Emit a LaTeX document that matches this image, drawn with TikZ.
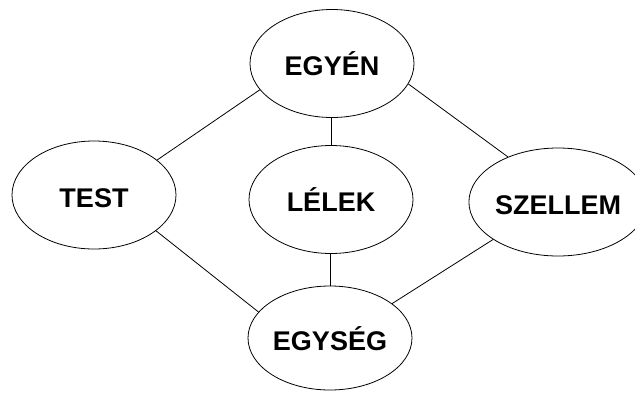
\documentclass[tikz,border=0pt]{standalone}
\usepackage{fontspec}
\setmainfont{Liberation Sans}
\usetikzlibrary{shapes.geometric}
\begin{document}
\begin{tikzpicture}[x=1pt,y=-1pt,
  blob/.style={ellipse,draw=black,line width=0.8pt,inner sep=0pt,
    minimum width=164pt,minimum height=108pt,
    font=\fontsize{27}{27}\selectfont\bfseries,text height=24pt,text depth=0pt},
  link/.style={draw=black,line width=0.8pt}]
\useasboundingbox[fill=white] (0,0) rectangle (635,392);
\node[blob] (egyen) at (332,63.5) {EGYÉN};
\node[blob] (test) at (94,195) {TEST};
\node[blob] (lelek) at (331,199.5) {LÉLEK};
\node[blob,minimum width=160pt] (szellem) at (558,202) {SZELLEM};
\node[blob,minimum height=104pt] (egyseg) at (330,338) {EGYSÉG};
\draw[link] (egyen.200.5) -- (test.29);
\draw[link] (egyen.-15.6) -- (szellem.138.7);
\draw[link] (test.-30.4) -- (egyseg.160);
\draw[link] (szellem.210) -- (egyseg.29);
\draw[link] (egyen.south -| lelek.north) -- (lelek.north);
\draw[link] (lelek.south -| egyseg.north) -- (egyseg.north);
\end{tikzpicture}
\end{document}
